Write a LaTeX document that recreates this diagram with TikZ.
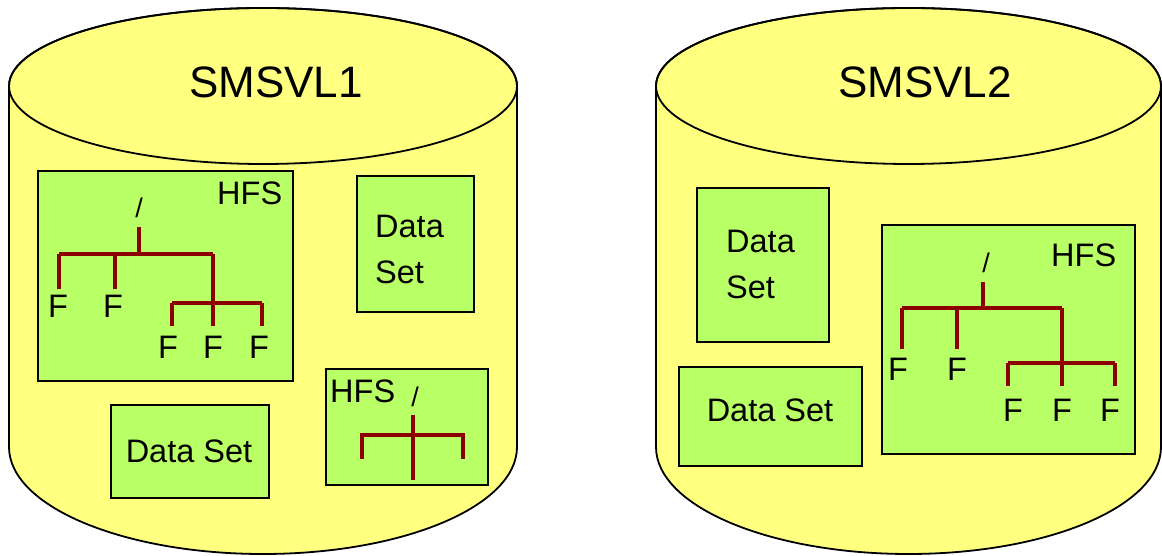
\documentclass[tikz,border=0pt]{standalone}
\usepackage{fontspec}
\setmainfont{Liberation Sans}
\definecolor{cylfill}{RGB}{255,255,128}
\definecolor{boxfill}{RGB}{185,255,102}
\definecolor{treered}{RGB}{140,0,0}
\begin{document}
\begin{tikzpicture}[x=1pt,y=1pt,
  cylbody/.style={fill=cylfill, draw=black, line width=1.8pt},
  cyltop/.style={draw=black, line width=1.8pt},
  box/.style={draw=black, fill=boxfill, line width=2.5pt, inner sep=0pt, outer sep=0pt, anchor=south west},
  lbl/.style={inner sep=0pt, font=\fontsize{32.5}{46}\selectfont},
  slashlbl/.style={inner sep=0pt, font=\fontsize{27}{30}\selectfont, anchor=base},
  title/.style={inner sep=0pt, font=\fontsize{44}{52}\selectfont, anchor=base},
  branch/.style={draw=treered, line width=4pt}]
\useasboundingbox (0,0) rectangle (1162,556);

% ---------- cylinder 1 ----------
\path[cylbody] (9,470) -- (9,109)
  arc[start angle=180, end angle=360, x radius=254, y radius=107]
  -- (517,470)
  arc[start angle=0, end angle=180, x radius=254, y radius=78] -- cycle;
\draw[cyltop] (263,470) ellipse [x radius=254, y radius=78];
\node[title] (title1) at (276,458) {SMSVL1};

% ---------- cylinder 2 ----------
\path[cylbody] (656,470) -- (656,109)
  arc[start angle=180, end angle=360, x radius=252.5, y radius=107]
  -- (1161,470)
  arc[start angle=0, end angle=180, x radius=252.5, y radius=78] -- cycle;
\draw[cyltop] (908.5,470) ellipse [x radius=252.5, y radius=78];
\node[title] (title2) at (925,458) {SMSVL2};

% ---------- boxes, cylinder 1 ----------
\node[box, minimum width=255pt, minimum height=210pt] (hfs1) at (38,175) {};
\node[box, minimum width=117pt, minimum height=136pt] (ds1) at (357,244) {};
\node[box, minimum width=158pt, minimum height=93pt] (ds2) at (111,58) {};
\node[box, minimum width=162pt, minimum height=116pt] (hfs2) at (326,71) {};

% ---------- boxes, cylinder 2 ----------
\node[box, minimum width=132pt, minimum height=154pt] (ds3) at (697,214) {};
\node[box, minimum width=183pt, minimum height=99pt] (ds4) at (679,90) {};
\node[box, minimum width=253pt, minimum height=229pt] (hfs3) at (882,102) {};

% ---------- texts, cylinder 1 ----------
\node[lbl, anchor=base west] (hfs1lbl) at (217,351) {HFS};
\node[slashlbl] (s1) at (139,338) {/};
\node[lbl, anchor=north west, align=left] (ds1lbl) at (375,341) {Data\\Set};
\node[lbl, anchor=base] (ds2lbl) at (189,93) {Data Set};
\node[lbl, anchor=base west] (hfs2lbl) at (330,153) {HFS};
\node[slashlbl] (s2) at (415,149) {/};
\node[lbl, anchor=base] (f1a) at (58,238) {F};
\node[lbl, anchor=base] (f1b) at (113,238) {F};
\node[lbl, anchor=base] (f1c) at (168,197) {F};
\node[lbl, anchor=base] (f1d) at (213,197) {F};
\node[lbl, anchor=base] (f1e) at (259,197) {F};

% ---------- texts, cylinder 2 ----------
\node[lbl, anchor=north west, align=left] (ds3lbl) at (726,326) {Data\\Set};
\node[lbl, anchor=base] (ds4lbl) at (770,134) {Data Set};
\node[lbl, anchor=base west] (hfs3lbl) at (1051,289) {HFS};
\node[slashlbl] (s3) at (986,283) {/};
\node[lbl, anchor=base] (f3a) at (898,175) {F};
\node[lbl, anchor=base] (f3b) at (957,175) {F};
\node[lbl, anchor=base] (f3c) at (1013,134) {F};
\node[lbl, anchor=base] (f3d) at (1062,134) {F};
\node[lbl, anchor=base] (f3e) at (1110,134) {F};

% ---------- tree in big HFS, cylinder 1 ----------
\coordinate (t1r) at (139,329);
\coordinate (t1j) at (139,302);
\coordinate (t1a) at (59,302);
\coordinate (t1b) at (115,302);
\coordinate (t1c) at (213,302);
\coordinate (t1e) at (172,253);
\coordinate (t1f) at (262,253);
\draw[branch] (t1r) -- (t1j);
\draw[branch] (t1a) -- (t1c);
\draw[branch] (t1e) -- (t1f);
\draw[branch, shorten >=6pt] (t1a) -- (t1a |- f1a.north);
\draw[branch, shorten >=6pt] (t1b) -- (t1b |- f1b.north);
\draw[branch, shorten >=10pt] (t1c) -- (t1c |- f1d.north);
\draw[branch, shorten >=10pt] (t1e) -- (t1e |- f1c.north);
\draw[branch, shorten >=10pt] (t1f) -- (t1f |- f1e.north);

% ---------- tree in small HFS, cylinder 1 ----------
\coordinate (t2top) at (413,141);
\coordinate (t2bot) at (413,76);
\coordinate (t2l) at (362,121);
\coordinate (t2r) at (463,121);
\coordinate (t2lend) at (362,97);
\coordinate (t2rend) at (463,97);
\draw[branch] (t2top) -- (t2bot);
\draw[branch] (t2lend) -- (t2l) -- (t2r) -- (t2rend);

% ---------- tree in HFS, cylinder 2 ----------
\coordinate (t3r) at (983,274);
\coordinate (t3j) at (983,248);
\coordinate (t3a) at (902,248);
\coordinate (t3b) at (957,248);
\coordinate (t3c) at (1062,248);
\coordinate (t3e) at (1008,193);
\coordinate (t3f) at (1115,193);
\draw[branch] (t3r) -- (t3j);
\draw[branch] (t3a) -- (t3c);
\draw[branch] (t3e) -- (t3f);
\draw[branch, shorten >=9pt] (t3a) -- (t3a |- f3a.north);
\draw[branch, shorten >=9pt] (t3b) -- (t3b |- f3b.north);
\draw[branch, shorten >=13pt] (t3c) -- (t3c |- f3d.north);
\draw[branch, shorten >=13pt] (t3e) -- (t3e |- f3c.north);
\draw[branch, shorten >=13pt] (t3f) -- (t3f |- f3e.north);
\end{tikzpicture}
\end{document}
